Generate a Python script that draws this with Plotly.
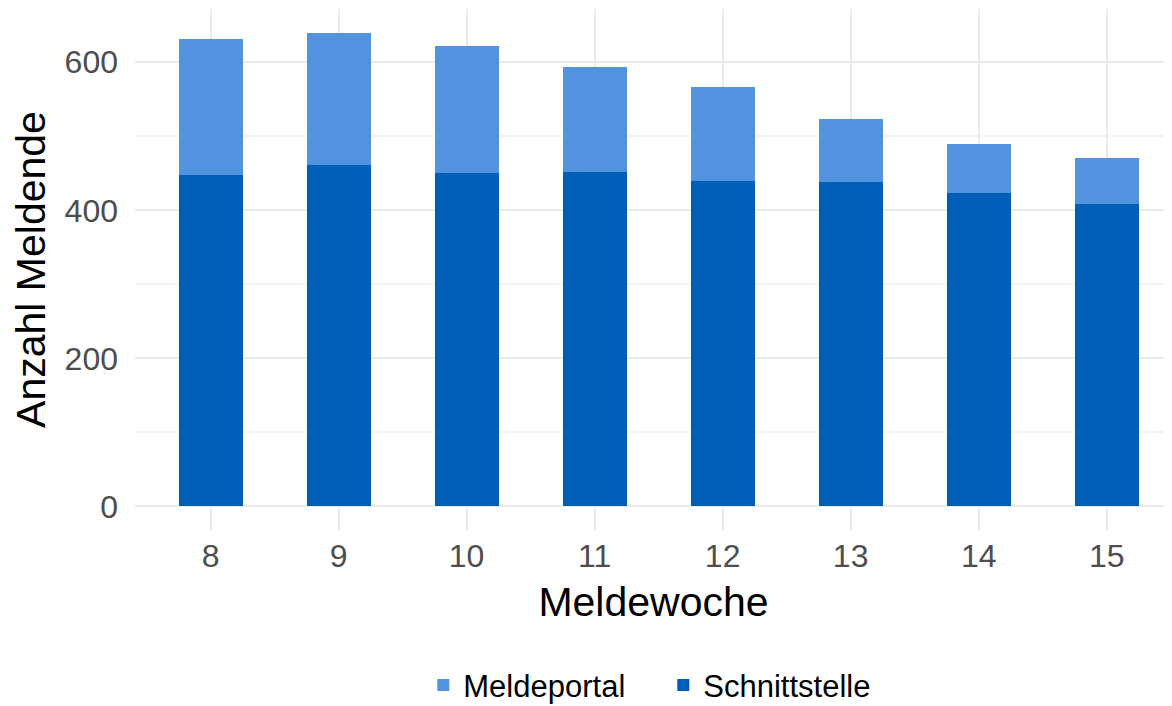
import plotly.graph_objects as go

WEEKS = [8, 9, 10, 11, 12, 13, 14, 15]
SCHNITTSTELLE = [448, 461, 450, 452, 440, 438, 423, 409]
MELDEPORTAL = [184, 179, 172, 142, 127, 86, 67, 62]

PORTAL_COLOR = "#5293E0"
SCHNITT_COLOR = "#005EB8"
GRID_COLOR = "#EBEBEB"
TICK_COLOR = "#4D4D4D"
FONT = "Liberation Sans, Arial, sans-serif"

fig = go.Figure()

fig.add_trace(
    go.Bar(
        x=WEEKS,
        y=SCHNITTSTELLE,
        name="Schnittstelle",
        marker={"color": SCHNITT_COLOR, "line": {"width": 0}},
        width=0.5,
    )
)

fig.add_trace(
    go.Bar(
        x=WEEKS,
        y=MELDEPORTAL,
        name="Meldeportal",
        marker={"color": PORTAL_COLOR, "line": {"width": 0}},
        width=0.5,
    )
)

# the page body adds an 8px margin, so the figure is sized to fit inside it
fig.update_layout(
    barmode="stack",
    width=1164,
    height=698,
    template="none",
    margin={"l": 127, "r": 0, "t": 1, "b": 176, "autoexpand": False},
    paper_bgcolor="white",
    plot_bgcolor="white",
    font={"family": FONT, "color": "black"},
    showlegend=True,
    legend={
        "orientation": "h",
        "traceorder": "reversed",
        "x": 0.278,
        "xanchor": "left",
        "y": -0.298,
        "yanchor": "middle",
        "font": {"size": 31, "color": "black"},
        "itemwidth": 30,
        "entrywidth": 195,
        "tracegroupgap": 0,
    },
)

fig.update_xaxes(
    range=[7.41, 15.51],
    tickmode="array",
    tickvals=WEEKS,
    ticktext=[str(w) for w in WEEKS],
    automargin=False,
    showgrid=True,
    gridcolor=GRID_COLOR,
    gridwidth=2,
    zeroline=False,
    showline=False,
    ticks="",
    ticklabelstandoff=4,
    tickfont={"size": 32, "color": TICK_COLOR},
    title={"text": "Meldewoche", "font": {"size": 41}, "standoff": 14},
)

fig.update_yaxes(
    range=[-32, 672],
    tickvals=[0, 200, 400, 600],
    automargin=False,
    showgrid=True,
    gridcolor=GRID_COLOR,
    gridwidth=2,
    minor={"tickvals": [100, 300, 500], "showgrid": True,
           "gridcolor": "#F3F3F3", "gridwidth": 1.5},
    zeroline=False,
    showline=False,
    ticks="",
    ticklabelstandoff=16,
    tickfont={"size": 32, "color": TICK_COLOR},
    title={"text": "Anzahl Meldende", "font": {"size": 41}, "standoff": 8},
)

fig.write_html("out.html")
